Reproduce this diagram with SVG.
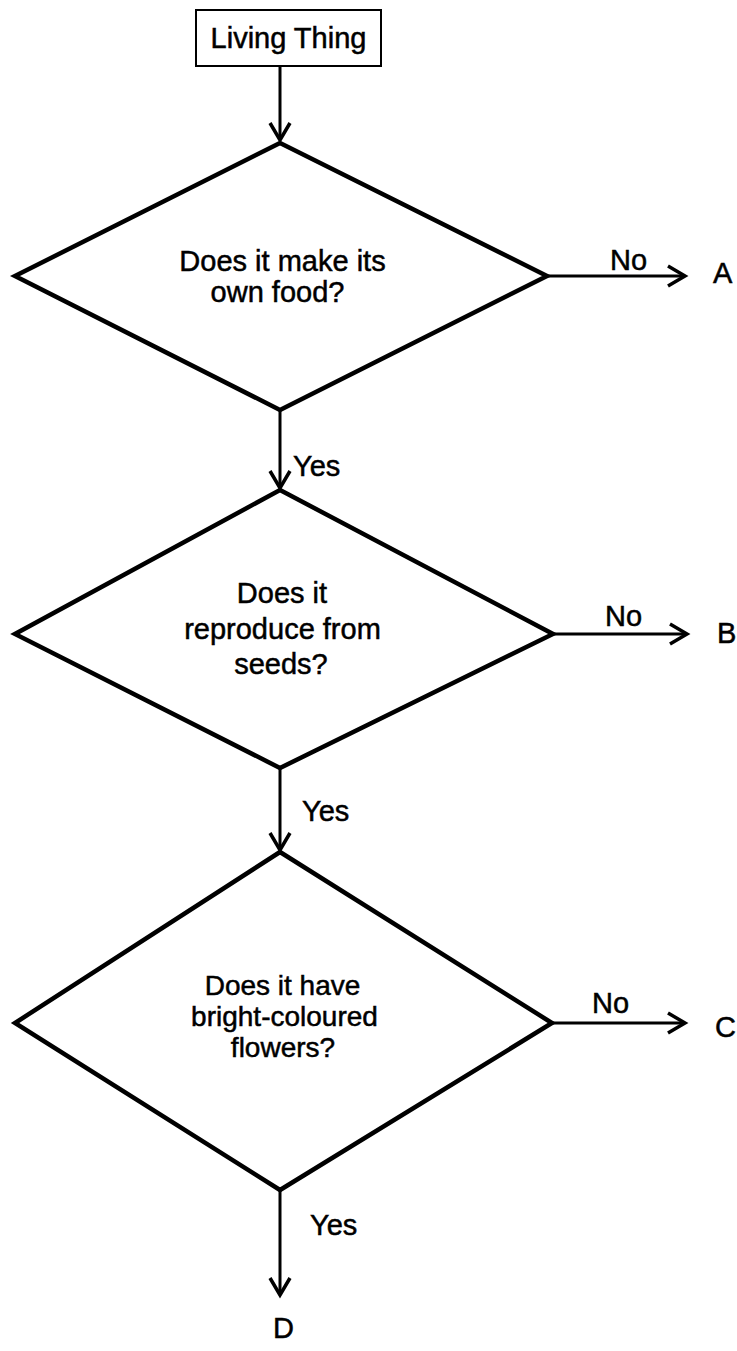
<svg xmlns="http://www.w3.org/2000/svg" width="737" height="1351" viewBox="0 0 737 1351">
<style>
.t{font-family:"Liberation Sans",Arial,sans-serif;font-size:29px;fill:#000;stroke:#000;stroke-width:0.5;text-anchor:middle}
.s{font-size:28px}
.l{font-family:"Liberation Sans",Arial,sans-serif;font-size:29px;fill:#000;stroke:#000;stroke-width:0.5}
.d{fill:#fff;stroke:#000;stroke-width:4.5;stroke-linejoin:miter}
.b{fill:#fff;stroke:#000;stroke-width:2}
.c{stroke:#000;stroke-width:3;fill:none;marker-end:url(#ah)}
</style>
<defs>
<marker id="ah" markerUnits="userSpaceOnUse" markerWidth="24" markerHeight="24" refX="18" refY="11" orient="auto" overflow="visible">
<path d="M1,1 L18,11 L1,21" fill="none" stroke="#000" stroke-width="3.5"/>
</marker>
</defs>
<rect width="737" height="1351" fill="#fff"/>
<g id="connectors">
<line class="c" x1="280" y1="66" x2="280" y2="140"/>
<line class="c" x1="280" y1="410" x2="280" y2="488"/>
<line class="c" x1="280" y1="768" x2="280" y2="850"/>
<line class="c" x1="280" y1="1190" x2="280" y2="1295"/>
<line class="c" x1="547" y1="276" x2="685" y2="276"/>
<line class="c" x1="553" y1="634" x2="687" y2="634"/>
<line class="c" x1="552" y1="1023" x2="685" y2="1023"/>
<text class="l" x="293" y="476">Yes</text>
<text class="l" x="302" y="821">Yes</text>
<text class="l" x="310" y="1235">Yes</text>
<text class="l" x="610" y="270">No</text>
<text class="l" x="605" y="626">No</text>
<text class="l" x="592" y="1013">No</text>
</g>
<g id="start">
<rect class="b" x="196" y="10" width="185" height="56"/>
<text class="t" x="288.5" y="48">Living Thing</text>
</g>
<g id="q1">
<polygon class="d" points="280,143 547,276 280,410 15,276"/>
<text class="t" x="282.5" y="271">Does it make its</text>
<text class="t" x="277.5" y="302">own food?</text>
</g>
<g id="q2">
<polygon class="d" points="280,490 553,634 280,768 15,634"/>
<text class="t" x="282" y="603">Does it</text>
<text class="t" x="282.5" y="639">reproduce from</text>
<text class="t" x="281" y="674">seeds?</text>
</g>
<g id="q3">
<polygon class="d" points="280,852 552,1023 280,1190 15,1023"/>
<text class="t s" x="282.5" y="995">Does it have</text>
<text class="t s" x="284.5" y="1026">bright-coloured</text>
<text class="t s" x="283" y="1057">flowers?</text>
</g>
<g id="A"><text class="l" x="713" y="283">A</text></g>
<g id="B"><text class="l" x="717" y="643">B</text></g>
<g id="C"><text class="l" x="715" y="1037">C</text></g>
<g id="D"><text class="l" x="273" y="1338">D</text></g>
</svg>
